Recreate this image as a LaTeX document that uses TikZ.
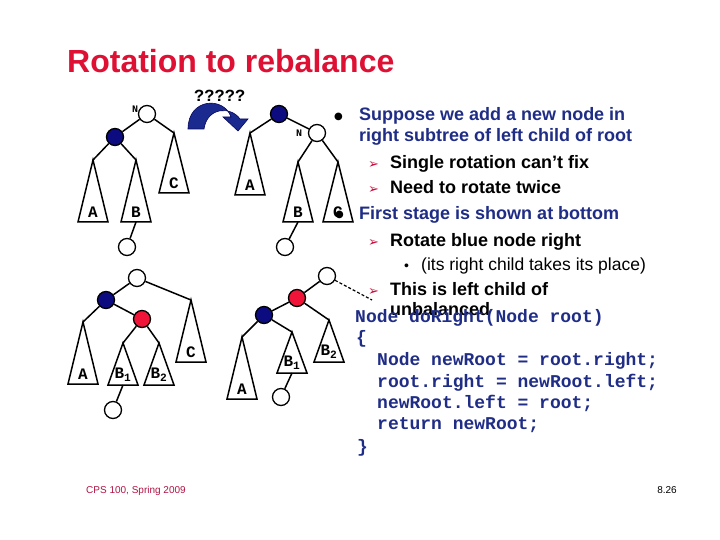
\documentclass[tikz,border=0pt]{standalone}
\usepackage{fontspec}
\setmainfont{Liberation Sans}
\newfontfamily\codefont{Liberation Mono}
\newfontfamily\symfont{DejaVu Sans}
\usetikzlibrary{arrows.meta,calc}
\definecolor{TitleRed}{HTML}{DE1034}
\definecolor{TextNavy}{HTML}{1F2D86}
\definecolor{NodeBlue}{HTML}{0C0C80}
\definecolor{NodeRed}{HTML}{F01438}
\definecolor{BulletRed}{HTML}{C8103F}
\definecolor{FootRed}{HTML}{B01545}
\definecolor{ArrowBlue}{HTML}{1B2A8E}

% subtree: name, apex, height, label
\newcommand{\subtree}[4]{%
  \coordinate (#1) at (#2);
  \coordinate (#1b) at ($(#1)+(0,#3)$);
  \draw[tri] (#1) -- ($(#1b)+(-15,0)$) -- ($(#1b)+(15,0)$) -- cycle;
  \node[lbl] (#1l) at ($(#1b)+(0,-10)$) {#4};}

\begin{document}
\begin{tikzpicture}[x=1pt,y=-1pt,
    wnode/.style={circle,draw=black,line width=1.3pt,fill=white,minimum size=17pt,inner sep=0},
    bnode/.style={wnode,fill=NodeBlue},
    rnode/.style={wnode,fill=NodeRed},
    tri/.style={draw=black,line width=1.5pt,line join=miter},
    edge/.style={draw=black,line width=1.5pt},
    lbl/.style={inner sep=0,font=\codefont\bfseries\fontsize{16}{16}\selectfont},
    nlbl/.style={inner sep=0,font=\codefont\bfseries\fontsize{10}{10}\selectfont},
    itm/.style={anchor=base west,inner sep=0,font=\bfseries\fontsize{18}{21.6}\selectfont},
    code/.style={anchor=base west,inner sep=0,text=TextNavy,font=\codefont\bfseries\fontsize{18}{21.6}\selectfont},
    arr/.style={anchor=base west,inner sep=0,text=BulletRed,font=\symfont\fontsize{13}{13}\selectfont}]
  \fill[white] (0,0) rectangle (720,540);
  \useasboundingbox (0,0) rectangle (720,540);

  \node[anchor=base west,inner sep=0,text=TitleRed,font=\bfseries\fontsize{32}{36}\selectfont] (title) at (67,73) {Rotation to rebalance};

  % top left tree
  \node[wnode] (n1) at (147,114) {};
  \node[nlbl] (n1l) at (135,109) {N};
  \node[bnode] (b1) at (115,137) {};
  \subtree{tlA}{93,160}{62}{A}
  \subtree{tlB}{136,160}{62}{B}
  \subtree{tlC}{174,133}{60}{C}
  \node[wnode] (x1) at (127,247) {};
  \draw[edge] (n1) -- (b1); \draw[edge] (n1) -- (tlC);
  \draw[edge] (b1) -- (tlA); \draw[edge] (b1) -- (tlB);
  \draw[edge] (tlBb) -- (x1);

  % rotation arrow
  \node[anchor=base west,inner sep=0,font=\codefont\bfseries\fontsize{17}{17}\selectfont] (qq) at (194,102) {?????};
  \filldraw[fill=ArrowBlue,draw=NodeBlue!70!black,line width=0.6pt]
    (188,129) .. controls (188,98) and (224,96) .. (231,117) -- (223,117) -- (238,131) -- (248,119)
    -- (240,119) .. controls (231,106) and (207,107) .. (204,129) -- cycle;

  % top right tree
  \node[bnode] (b2) at (279,114) {};
  \node[wnode] (n2) at (317,133) {};
  \node[nlbl] (n2l) at (299,133) {N};
  \subtree{trA}{250,133}{62}{A}
  \subtree{trB}{298,162}{60}{B}
  \subtree{trC}{338,162}{60}{C}
  \node[wnode] (x2) at (285,247) {};
  \draw[edge] (b2) -- (trA); \draw[edge] (b2) -- (n2);
  \draw[edge] (n2) -- (trB); \draw[edge] (n2) -- (trC);
  \draw[edge] (trBb) -- (x2);

  % bottom left tree
  \node[wnode] (r3) at (137,278) {};
  \node[bnode] (b3) at (106,300) {};
  \node[rnode] (d3) at (142,319) {};
  \subtree{blA}{83,322}{62}{A}
  \subtree{blB1}{123,343}{42}{B\textsubscript{1}}
  \subtree{blB2}{159,343}{42}{B\textsubscript{2}}
  \subtree{blC}{191,300}{62}{C}
  \node[wnode] (x3) at (113,410) {};
  \draw[edge] (r3) -- (b3); \draw[edge] (r3) -- (blC);
  \draw[edge] (b3) -- (blA); \draw[edge] (b3) -- (d3);
  \draw[edge] (d3) -- (blB1); \draw[edge] (d3) -- (blB2);
  \draw[edge] (blB1b) -- (x3);

  % bottom right tree
  \node[wnode] (r4) at (327,276) {};
  \node[rnode] (d4) at (297,298) {};
  \node[bnode] (b4) at (264,315) {};
  \subtree{brA}{242,337}{62}{A}
  \subtree{brB1}{292,332}{41}{B\textsubscript{1}}
  \subtree{brB2}{329,320}{42}{B\textsubscript{2}}
  \node[wnode] (x4) at (281,397) {};
  \coordinate (up) at (372,300);
  \draw[edge] (r4) -- (d4); \draw[edge] (d4) -- (b4); \draw[edge] (d4) -- (brB2);
  \draw[edge] (b4) -- (brA); \draw[edge] (b4) -- (brB1);
  \draw[edge] (brB1b) -- (x4);
  \draw[edge,line width=1.2pt,dash pattern=on 3pt off 2pt] (r4) -- (up);

  % text
  \node[anchor=base west,inner sep=0,font=\symfont\fontsize{10}{10}\selectfont] (dot1) at (334,120) {●};
  \node[itm,text=TextNavy] (t1) at (359,121) {Suppose we add a new node in};
  \node[itm,text=TextNavy] (t2) at (359,142) {right subtree of left child of root};
  \node[arr] (a1) at (368,169) {➢};
  \node[itm] (t3) at (390,169) {Single rotation can’t fix};
  \node[arr] (a2) at (368,194) {➢};
  \node[itm] (t4) at (390,194) {Need to rotate twice};
  \node[anchor=base west,inner sep=0,font=\symfont\fontsize{10}{10}\selectfont] (dot2) at (335,218) {●};
  \node[itm,text=TextNavy] (t5) at (359,219) {First stage is shown at bottom};
  \node[arr] (a3) at (368,246) {➢};
  \node[itm] (t6) at (390,246) {Rotate blue node right};
  \node[anchor=base west,inner sep=0,font=\fontsize{14}{14}\selectfont] (dot3) at (404,270) {•};
  \node[anchor=base west,inner sep=0,font=\fontsize{17.5}{20}\selectfont] (t7) at (421,270) {(its right child takes its place)};
  \node[arr] (a4) at (368,295) {➢};
  \node[itm] (t8) at (390,295) {This is left child of};
  \node[itm] (t9) at (390,315) {unbalanced};

  \node[code] (c1) at (355,322) {Node doRight(Node root)};
  \node[code] (c2) at (356,343) {\{};
  \node[code] (c3) at (377,365) {Node newRoot = root.right;};
  \node[code] (c4) at (377,387) {root.right = newRoot.left;};
  \node[code] (c5) at (377,408) {newRoot.left = root;};
  \node[code] (c6) at (377,429) {return newRoot;};
  \node[code] (c7) at (357,452) {\}};

  % footer
  \node[anchor=base west,inner sep=0,text=FootRed,font=\fontsize{10}{12}\selectfont] (foot) at (86,493) {CPS 100, Spring 2009};
  \node[anchor=base east,inner sep=0,font=\fontsize{10}{12}\selectfont] (page) at (677,493) {8.26};
\end{tikzpicture}
\end{document}
